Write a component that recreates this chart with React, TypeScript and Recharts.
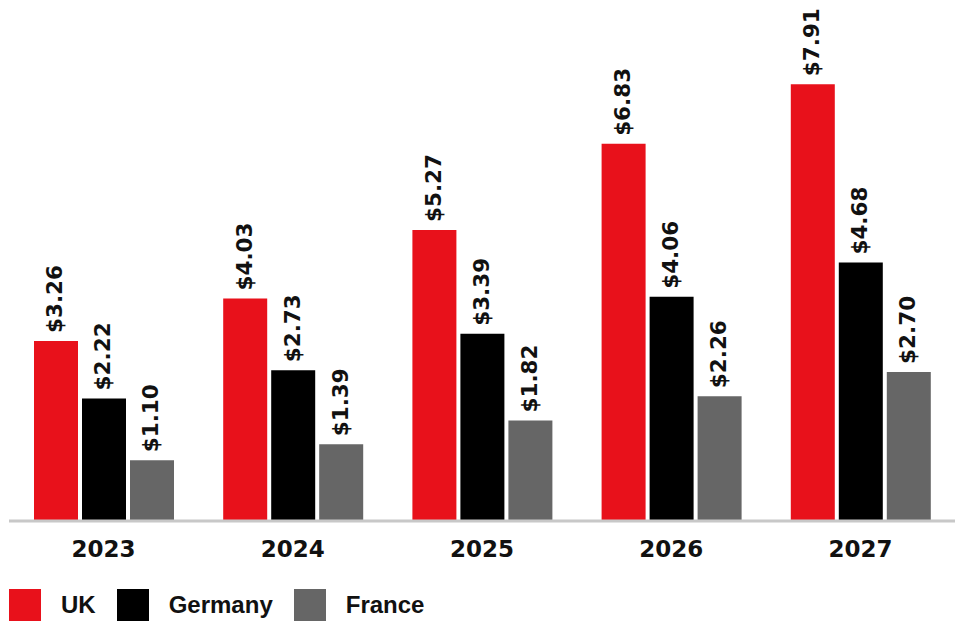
import React from 'react';
import { BarChart, Bar, XAxis, YAxis, Legend, LabelList } from 'recharts';

const years = ['2023', '2024', '2025', '2026', '2027'];
const ukValues = [3.26, 4.03, 5.27, 6.83, 7.91];
const germanyValues = [2.22, 2.73, 3.39, 4.06, 4.68];
const franceValues = [1.1, 1.39, 1.82, 2.26, 2.7];

const seriesNames = ['UK', 'Germany', 'France'];
const seriesColors = ['#E8111B', '#000000', '#666666'];

const data = years.map((year, i) => ({
  year,
  UK: ukValues[i],
  Germany: germanyValues[i],
  France: franceValues[i],
}));

const labelFont = '"DejaVu Sans", sans-serif';

const ValueLabel = (props: any) => {
  const { x, y, width, value } = props;
  const cx = Number(x) + Number(width) / 2 - 1;
  const ty = Number(y) - 8;
  return (
    <text
      x={cx}
      y={ty}
      transform={`rotate(-90, ${cx}, ${ty})`}
      textAnchor="start"
      dominantBaseline="central"
      fontFamily={labelFont}
      fontWeight={700}
      fontSize={21.5}
      fill="#111111"
    >
      {`$${Number(value).toFixed(2)}`}
    </text>
  );
};

const YearTick = (props: any) => {
  const { x, y, payload } = props;
  return (
    <text
      x={x}
      y={Number(y) + 36}
      textAnchor="middle"
      fontFamily={labelFont}
      fontWeight={700}
      fontSize={23}
      fill="#111111"
    >
      {payload.value}
    </text>
  );
};

const LegendContent = () => (
  <div style={{ display: 'flex', alignItems: 'center', height: 32 }}>
    {seriesNames.map((name, i) => (
      <div key={name} style={{ display: 'flex', alignItems: 'center', marginRight: 21 }}>
        <div style={{ width: 32, height: 32, background: seriesColors[i] }} />
        <span
          style={{
            marginLeft: 20,
            fontFamily: '"Liberation Sans", Arial, sans-serif',
            fontWeight: 700,
            fontSize: 24,
            lineHeight: '32px',
            color: '#111111',
          }}
        >
          {name}
        </span>
      </div>
    ))}
  </div>
);

export default function App() {
  return (
    <div style={{ position: 'absolute', left: 0, top: 0, width: 956, height: 633, background: '#fff' }}>
      <BarChart
        width={956}
        height={633}
        data={data}
        margin={{ top: 24, right: 1, left: 9, bottom: 12 }}
        barSize={44}
        barGap={4}
      >
        <XAxis
          dataKey="year"
          height={68}
          tickLine={false}
          tickSize={0}
          tickMargin={0}
          axisLine={{ stroke: '#c8c8c8', strokeWidth: 3 }}
          tick={<YearTick />}
          interval={0}
        />
        <YAxis hide domain={[0, 9]} />
        <Legend verticalAlign="bottom" align="left" height={32} content={<LegendContent />} />
        {seriesNames.map((name, i) => (
          <Bar key={name} dataKey={name} fill={seriesColors[i]} isAnimationActive={false}>
            <LabelList dataKey={name} content={<ValueLabel />} />
          </Bar>
        ))}
      </BarChart>
    </div>
  );
}
